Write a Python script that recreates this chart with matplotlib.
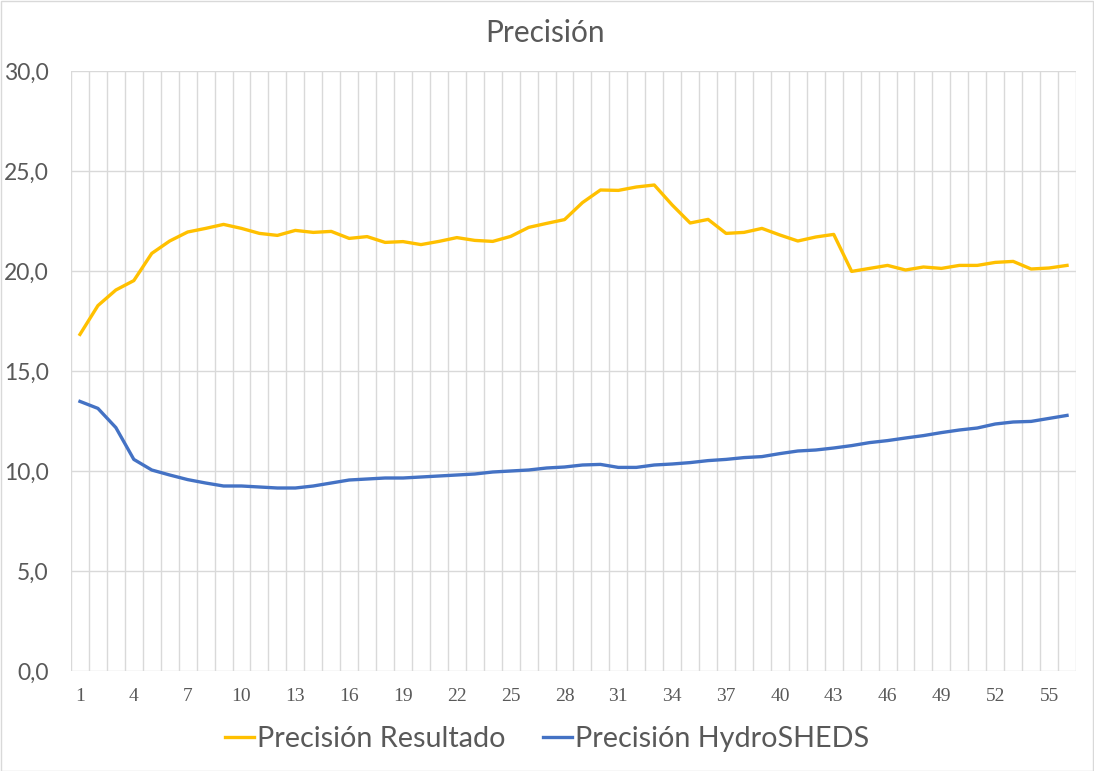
import numpy as np
import matplotlib
matplotlib.use("Agg")
from matplotlib import pyplot as plt
from matplotlib.patches import Rectangle

# data --------------------------------------------------------------------
puntos = list(range(1, 57))

precision_resultado = [
    16.83, 18.27, 19.05, 19.52, 20.88, 21.50, 21.95, 22.13, 22.33, 22.13,
    21.88, 21.78, 22.03, 21.93, 21.98, 21.63, 21.72, 21.43, 21.47, 21.32,
    21.48, 21.67, 21.53, 21.48, 21.73, 22.18, 22.38, 22.57, 23.42, 24.05,
    24.03, 24.20, 24.30, 23.30, 22.40, 22.58, 21.88, 21.93, 22.13, 21.80,
    21.50, 21.70, 21.83, 19.98, 20.13, 20.28, 20.05, 20.20, 20.13, 20.28,
    20.28, 20.43, 20.48, 20.10, 20.15, 20.28]

precision_hydrosheds = [
    13.48, 13.13, 12.17, 10.58, 10.05, 9.80, 9.57, 9.40, 9.25, 9.25,
    9.20, 9.15, 9.15, 9.25, 9.40, 9.55, 9.60, 9.65, 9.65, 9.70,
    9.75, 9.80, 9.85, 9.95, 10.00, 10.05, 10.15, 10.20, 10.30, 10.33,
    10.18, 10.18, 10.30, 10.35, 10.42, 10.52, 10.58, 10.67, 10.72, 10.87,
    11.00, 11.05, 11.15, 11.27, 11.42, 11.52, 11.65, 11.77, 11.92, 12.05,
    12.15, 12.35, 12.45, 12.48, 12.63, 12.78]

y_ticks = [0, 5, 10, 15, 20, 25, 30]
x_labels = puntos[::3]

# style --------------------------------------------------------------------
AMARILLO = "#FFC000"
AZUL = "#4472C4"
GRIS_TXT = "#595959"
GRIS_GRID = "#D9D9D9"
FONT = ["Lato", "DejaVu Sans"]

plt.rcParams['font.family'] = FONT

W, H = 1094, 771
fig = plt.figure(figsize=(W / 100, H / 100), dpi=100)
ax = fig.add_axes([71 / W, 1 - 671 / H, (1076 - 71) / W, 600 / H])

ax.plot(puntos, precision_resultado, color=AMARILLO, lw=2.4,
        label="Precisión Resultado", solid_joinstyle='round')
ax.plot(puntos, precision_hydrosheds, color=AZUL, lw=2.4,
        label="Precisión HydroSHEDS", solid_joinstyle='round')

ax.set_xlim(0.5, len(puntos) + 0.5)
ax.set_ylim(0, 30)

# grid: horizontal at y ticks, vertical at every category boundary
for y in y_ticks:
    ax.axhline(y, color=GRIS_GRID, lw=1.0, zorder=0)
for xb in np.arange(0.5, len(puntos) + 1, 1.0):
    ax.axvline(xb, color=GRIS_GRID, lw=1.0, zorder=0)

for s in ax.spines.values():
    s.set_visible(False)

ax.set_yticks(y_ticks)
ax.set_yticklabels(["{:.1f}".format(v).replace(".", ",") for v in y_ticks],
                   fontsize=16.5, color=GRIS_TXT)
ax.set_xticks(x_labels)
ax.set_xticklabels([str(v) for v in x_labels], fontsize=14,
                   color=GRIS_TXT, family=["Liberation Serif", "DejaVu Serif"])
ax.tick_params(axis='y', length=0, pad=16)
ax.tick_params(axis='x', length=0, pad=12)

fig.text(545 / W, 1 - 42 / H, "Precisión", ha='center', va='baseline',
         fontsize=21.5, color=GRIS_TXT)

leg = fig.legend(loc='center', bbox_to_anchor=(0.5, 1 - 739 / H), ncol=2,
                 frameon=False, fontsize=20.7, handlelength=1.0,
                 handletextpad=0.12, columnspacing=1.3)
for t in leg.get_texts():
    t.set_color(GRIS_TXT)
for h in leg.get_lines():
    h.set_linewidth(2.4)

# thin border round the chart area
fig.patches.append(Rectangle((0.5 / W, 0.5 / H), 1 - 1.5 / W, 1 - 1.5 / H,
                             transform=fig.transFigure, fill=False,
                             edgecolor=GRIS_GRID, lw=1.0))

fig.savefig("out.png", dpi=100)
